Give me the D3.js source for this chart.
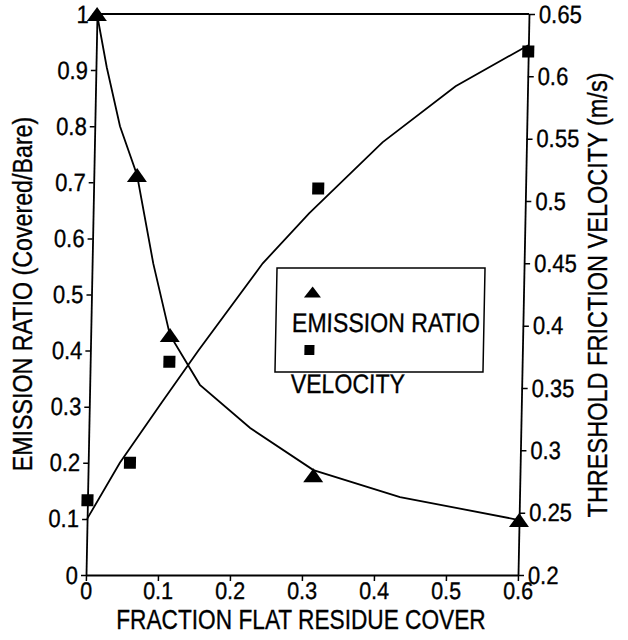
<!DOCTYPE html>
<html>
<head>
<meta charset="utf-8">
<script src="https://cdn.jsdelivr.net/npm/d3@7"></script>
<style>
  html, body { margin: 0; padding: 0; background: #fff; }
  svg { display: block; }
  text { font-family: "Liberation Sans", Arial, Helvetica, sans-serif; fill: #000; stroke: #000; stroke-width: 0.35px; }
</style>
</head>
<body>
<svg id="chart" width="628" height="640"></svg>
<script>
// Measured points: emission ratio (left axis) against residue cover
const emissionCover = [0.0, 0.06, 0.11, 0.313, 0.6];
const emissionRatio = [1.0, 0.713, 0.428, 0.178, 0.098];
// Measured points: threshold friction velocity (right axis)
const velocityCover = [0.0, 0.058, 0.11, 0.312, 0.6];
const velocityValue = [0.26, 0.29, 0.371, 0.51, 0.62];

// Fitted curves, sampled along the drawn lines
const emissionFitCover = [0.0, 0.015, 0.035, 0.06, 0.085, 0.11, 0.153, 0.224, 0.313, 0.434, 0.6];
const emissionFitRatio = [1.0, 0.905, 0.80, 0.713, 0.555, 0.428, 0.339, 0.262, 0.187, 0.139, 0.098];
const velocityFitCover = [0.0, 0.044, 0.1, 0.15, 0.237, 0.3, 0.4, 0.5, 0.6];
const velocityFitValue = [0.245, 0.29, 0.338, 0.38, 0.45, 0.49, 0.547, 0.592, 0.625];

// Tick values and labels
const xTicks = [0, 0.1, 0.2, 0.3, 0.4, 0.5, 0.6];
const xTickLabels = ["0", "0.1", "0.2", "0.3", "0.4", "0.5", "0.6"];
const leftTicks = [0, 0.1, 0.2, 0.3, 0.4, 0.5, 0.6, 0.7, 0.8, 0.9, 1];
const leftTickLabels = ["0", "0.1", "0.2", "0.3", "0.4", "0.5", "0.6", "0.7", "0.8", "0.9", "1"];
const rightTicks = [0.2, 0.25, 0.3, 0.35, 0.4, 0.45, 0.5, 0.55, 0.6, 0.65];
const rightTickLabels = ["0.2", "0.25", "0.3", "0.35", "0.4", "0.45", "0.5", "0.55", "0.6", "0.65"];

const legendLabels = ["EMISSION RATIO", "VELOCITY"];

const svg = d3.select("#chart");
const FONT = '"Liberation Sans", Arial, Helvetica, sans-serif';
const LINE_W = 1.8;

// plot frame
const frame = { left: 86, right: 518, top: 14, bottom: 575 };

const x = d3.scaleLinear().domain([0, 0.6]).range([frame.left, frame.right]);
const yL = d3.scaleLinear().domain([0, 1]).range([frame.bottom, frame.top]);
const yR = d3.scaleLinear().domain([0.2, 0.65]).range([frame.bottom, frame.top]);

// the whole frame leans slightly to the right toward the top
const g = svg.append("g")
  .attr("transform", `translate(0,${frame.bottom}) skewX(-1.123) translate(0,${-frame.bottom})`);

// narrow-looking type: scale glyphs horizontally about their anchor
function squeeze(sel, s) {
  sel.each(function () {
    const t = d3.select(this);
    const ax = +t.attr("x") || 0;
    t.attr("transform", `translate(${ax},0) scale(${s},1) translate(${-ax},0)`);
  });
}

function styleAxis(axG, size, s) {
  axG.attr("font-family", FONT).attr("font-size", size);
  axG.selectAll("path.domain").attr("stroke", "#000").attr("stroke-width", LINE_W);
  axG.selectAll(".tick line").attr("stroke", "#000").attr("stroke-width", 1.5);
  axG.selectAll(".tick text").attr("fill", "#000");
  squeeze(axG.selectAll(".tick text"), s);
}

const xAxis = g.append("g")
  .attr("transform", `translate(0,${frame.bottom})`)
  .call(d3.axisBottom(x).tickValues(xTicks)
    .tickFormat((d, i) => xTickLabels[i])
    .tickSize(6).tickSizeOuter(0).tickPadding(1));
styleAxis(xAxis, 24, 0.9);

const lAxis = g.append("g")
  .attr("transform", `translate(${frame.left},0)`)
  .call(d3.axisLeft(yL).tickValues(leftTicks)
    .tickFormat((d, i) => leftTickLabels[i])
    .tickSize(5).tickSizeOuter(0).tickPadding(3));
styleAxis(lAxis, 25, 0.88);

const rAxis = g.append("g")
  .attr("transform", `translate(${frame.right},0)`)
  .call(d3.axisRight(yR).tickValues(rightTicks)
    .tickFormat((d, i) => rightTickLabels[i])
    .tickSize(6).tickSizeOuter(0).tickPadding(4));
styleAxis(rAxis, 25, 0.88);

// top border
g.append("line")
  .attr("x1", frame.left).attr("x2", frame.right)
  .attr("y1", frame.top).attr("y2", frame.top)
  .attr("stroke", "#000").attr("stroke-width", LINE_W);

// fitted curves
const emissionLine = d3.line()
  .x((d, i) => x(emissionFitCover[i]))
  .y(d => yL(d));
g.append("path")
  .datum(emissionFitRatio)
  .attr("d", emissionLine)
  .attr("fill", "none").attr("stroke", "#000").attr("stroke-width", LINE_W);

const velocityLine = d3.line()
  .x((d, i) => x(velocityFitCover[i]))
  .y(d => yR(d));
g.append("path")
  .datum(velocityFitValue)
  .attr("d", velocityLine)
  .attr("fill", "none").attr("stroke", "#000").attr("stroke-width", LINE_W);

// markers
const tri = (w, h) => `M0,${-h / 2}L${w / 2},${h / 2}L${-w / 2},${h / 2}Z`;

g.selectAll("path.emission")
  .data(emissionRatio)
  .join("path")
  .attr("class", "emission")
  .attr("d", tri(20, 14))
  .attr("transform", (d, i) => `translate(${x(emissionCover[i])},${yL(d)})`)
  .attr("fill", "#000");

g.selectAll("rect.velocity")
  .data(velocityValue)
  .join("rect")
  .attr("class", "velocity")
  .attr("x", (d, i) => x(velocityCover[i]) - 6)
  .attr("y", d => yR(d) - 6)
  .attr("width", 12).attr("height", 12)
  .attr("fill", "#000");

// legend
const lg = g.append("g");
lg.append("rect")
  .attr("x", 271).attr("y", 268).attr("width", 208).attr("height", 104)
  .attr("fill", "#fff").attr("stroke", "#000").attr("stroke-width", 1.5);
lg.append("path")
  .attr("d", tri(17, 11))
  .attr("transform", "translate(307,292)")
  .attr("fill", "#000");
lg.append("rect")
  .attr("x", 300).attr("y", 345).attr("width", 10).attr("height", 10)
  .attr("fill", "#000");
const legendText = lg.selectAll("text.leg")
  .data(legendLabels)
  .join("text")
  .attr("class", "leg")
  .attr("x", 287)
  .attr("y", (d, i) => i === 0 ? 332 : 393)
  .attr("font-size", 27)
  .text(d => d);
squeeze(legendText, 0.855);

// axis titles
svg.append("text")
  .attr("text-anchor", "middle")
  .attr("font-size", 27)
  .attr("transform", "translate(301,629) scale(0.84,1)")
  .text("FRACTION FLAT RESIDUE COVER");

svg.append("text")
  .attr("text-anchor", "middle")
  .attr("font-size", 28)
  .attr("transform", "translate(32,294) rotate(-90) scale(0.83,1)")
  .text("EMISSION RATIO (Covered/Bare)");

svg.append("text")
  .attr("text-anchor", "middle")
  .attr("font-size", 28)
  .attr("transform", "translate(607,295) rotate(-90) scale(0.84,1)")
  .text("THRESHOLD FRICTION VELOCITY (m/s)");
</script>
</body>
</html>
